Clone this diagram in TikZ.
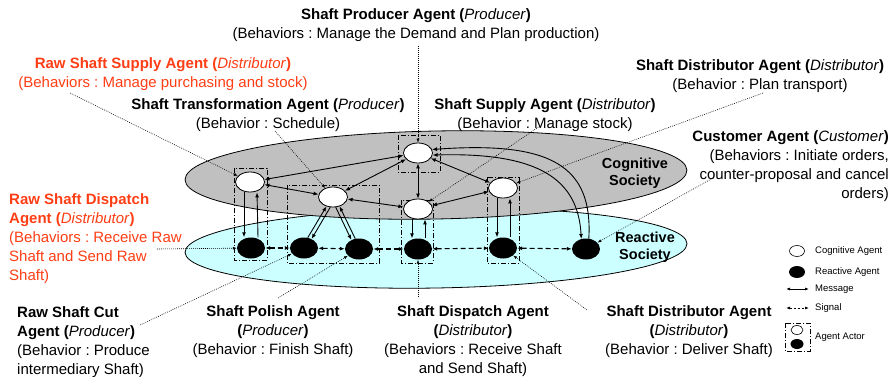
\documentclass[tikz,border=0pt]{standalone}
\usepackage{fontspec}
\setmainfont{Liberation Sans}
\usetikzlibrary{arrows.meta,shapes.geometric}
\definecolor{cogfill}{RGB}{192,192,192}
\definecolor{reafill}{RGB}{204,255,255}
\definecolor{rawred}{RGB}{255,61,20}
\newcommand\aglabel[2]{\textbf{#1 (}\textit{#2}\textbf{)}}
\frenchspacing
\begin{document}
\begin{tikzpicture}[x=1pt,y=-1pt,
  cog/.style={ellipse, draw, fill=white, line width=0.8pt, minimum width=29pt, minimum height=20pt, inner sep=0pt},
  rea/.style={ellipse, fill=black, minimum width=28pt, minimum height=21pt, inner sep=0pt},
  msg/.style={line width=0.9pt, -{Latex[length=5pt,width=4pt]}},
  msgb/.style={line width=0.9pt, {Latex[length=5pt,width=4pt]}-{Latex[length=5pt,width=4pt]}},
  sig/.style={line width=1.1pt, dash pattern=on 5pt off 3pt, {Latex[length=5pt,width=4pt]}-{Latex[length=5pt,width=4pt]}},
  actor/.style={draw, line width=0.8pt, dash pattern=on 5pt off 2pt on 1pt off 2pt},
  lead/.style={line width=0.6pt, dash pattern=on 0.8pt off 1.2pt, -{Latex[length=4pt,width=3pt]}},
  lbl/.style={align=center, inner sep=0pt, font=\fontsize{15}{19}\selectfont\frenchspacing},
  soc/.style={align=center, inner sep=0pt, font=\fontsize{14.5}{17}\selectfont\bfseries},
  leg/.style={anchor=west, inner sep=0pt, font=\fontsize{9.5}{11}\selectfont}
]
\useasboundingbox (0,0) rectangle (894,377);

% the two societies
\filldraw[fill=reafill, line width=0.8pt, rotate around={1.0:(436,248)}] (436,248) ellipse [x radius=251, y radius=40];
\filldraw[fill=cogfill, line width=0.8pt, rotate around={1.1:(436,176)}] (436,175) ellipse [x radius=251, y radius=44];
\node[soc] (cogsoc) at (635,173) {Cognitive\\Society};
\node[soc] (reasoc) at (645,247) {Reactive\\Society};

% agent actors
\draw[actor] (234,168) rectangle (267,260);
\draw[actor] (287,185) rectangle (379,263);
\draw[actor] (398,135) rectangle (440,172);
\draw[actor] (401,200) rectangle (433,263);
\draw[actor] (487,177) rectangle (519,263);

% cognitive agents
\node[cog] (C1) at (250,182) {};
\node[cog] (C2) at (333,197) {};
\node[cog] (C3) at (418,153) {};
\node[cog] (C4) at (418,209) {};
\node[cog] (C5) at (503,188) {};
% reactive agents
\node[rea] (R1) at (251,248) {};
\node[rea] (R2) at (304,248) {};
\node[rea] (R3) at (359,249) {};
\node[rea] (R4) at (418,249) {};
\node[rea] (R5) at (503,248) {};
\node[rea] (R6) at (586,249) {};

% messages between cognitive agents
\draw[msgb] (C1) -- (C3);
\draw[msgb] (C1) -- (C2);
\draw[msgb] (C2) -- (C3);
\draw[msgb] (C3) -- (C4);
\draw[msgb] (C2) -- (C4);
\draw[msgb] (C3) -- (C5);
\draw[msgb] (C4) -- (C5);

% messages between the two levels
\draw[msg] ([xshift=-6pt]C1.south) -- ([xshift=-7pt]R1.north);
\draw[msg] ([xshift=7pt]R1.north) -- ([xshift=7pt]C1.south);
\draw[msg] (R2.70) -- (C2.-125);
\draw[msg] (C2.-105) -- (R2.50);
\draw[msg] (C2.-75) -- (R3.130);
\draw[msg] (R3.110) -- (C2.-55);
\draw[msg] ([xshift=-6pt]C4.south) -- ([xshift=-6pt]R4.north);
\draw[msg] ([xshift=7pt]R4.north) -- ([xshift=7pt]C4.south);
\draw[msg] ([xshift=-6pt]C5.south) -- ([xshift=-6pt]R5.north);
\draw[msg] ([xshift=7pt]R5.north) -- ([xshift=7pt]C5.south);
\draw[msg] (R6.75) .. controls (593,165) and (550,141) .. (C3.14);
\draw[msgb] (C3.-8) .. controls (540,152) and (578,180) .. (R6.115);

% signals between reactive agents
\draw[sig] (R1) -- (R2);
\draw[sig] (R2) -- (R3);
\draw[sig] (R3) -- (R4);
\draw[sig] (R4) -- (R5);
\draw[sig] (R5) -- (R6);

% labels
\node[lbl] (tProd) at (416,25.5) {\aglabel{Shaft Producer Agent}{Producer}\\(Behaviors : Manage the Demand and Plan production)};
\node[lbl, text=rawred] (tRawSup) at (163,74) {\aglabel{Raw Shaft Supply Agent}{Distributor}\\(Behaviors : Manage purchasing and stock)};
\node[lbl] (tTrans) at (268,115.5) {\aglabel{Shaft Transformation Agent}{Producer}\\(Behavior : Schedule)};
\node[lbl] (tSup) at (545,115.5) {\aglabel{Shaft Supply Agent}{Distributor}\\(Behavior : Manage stock)};
\node[lbl] (tDistT) at (760,76) {\aglabel{Shaft Distributor Agent}{Distributor}\\(Behavior : Plan transport)};
\node[lbl, align=right, anchor=east] (tCust) at (889,166) {\aglabel{Customer Agent}{Customer}\\(Behaviors : Initiate orders,\\counter-proposal and cancel\\orders)};
\node[lbl, align=left, anchor=west, text=rawred] (tRawDis) at (9,238.5) {\textbf{Raw Shaft Dispatch}\\\aglabel{Agent}{Distributor}\\(Behaviors : Receive Raw\\Shaft and Send Raw\\Shaft)};
\node[lbl, align=left, anchor=west] (tCut) at (17,342) {\textbf{Raw Shaft Cut}\\\aglabel{Agent}{Producer}\\(Behavior : Produce\\intermediary Shaft)};
\node[lbl] (tPol) at (273,332) {\textbf{Shaft Polish Agent}\\\textbf{(}\textit{Producer}\textbf{)}\\(Behavior : Finish Shaft)};
\node[lbl] (tDisp) at (473,341) {\textbf{Shaft Dispatch Agent}\\\textbf{(}\textit{Distributor}\textbf{)}\\(Behaviors : Receive Shaft\\and Send Shaft)};
\node[lbl] (tDistB) at (689,332) {\textbf{Shaft Distributor Agent}\\\textbf{(}\textit{Distributor}\textbf{)}\\(Behavior : Deliver Shaft)};

% leader lines from labels to agents
\coordinate (pP) at (418,46);
\coordinate (pRS) at (70,93);
\coordinate (pT) at (275,131);
\coordinate (pS) at (540,126);
\coordinate (pD) at (763,93);
\coordinate (pCu) at (713,178);
\coordinate (pRD) at (157,249);
\coordinate (pRC) at (140,325);
\coordinate (pPo) at (278,298);
\coordinate (pSD) at (418,297);
\coordinate (pDB) at (587,310);
\draw[lead] (pP) -- (C3);
\draw[lead] (pRS) -- (C1);
\draw[lead] (pT) -- (C2);
\draw[lead] (pS) -- (C4);
\draw[lead] (pD) -- (C5);
\draw[lead] (pCu) -- (R6);
\draw[lead] (pRD) -- (R1);
\draw[lead] (pRC) -- (R2);
\draw[lead] (pPo) -- (R3);
\draw[lead] (pSD) -- (R4);
\draw[lead] (pDB) -- (R5);

% legend
\node[ellipse, draw, fill=white, line width=0.6pt, minimum width=15pt, minimum height=11pt, inner sep=0pt] (lgC) at (797,251) {};
\node[leg] (lgCt) at (815,251) {Cognitive Agent};
\node[ellipse, fill=black, minimum width=16pt, minimum height=12pt, inner sep=0pt] (lgR) at (797,272) {};
\node[leg] (lgRt) at (815,272) {Reactive Agent};
\coordinate (lgM1) at (786,289);
\coordinate (lgM2) at (809,289);
\draw[line width=0.9pt, {Latex[length=4pt,width=3pt]}-{Latex[length=4pt,width=3pt]}] (lgM1) -- (lgM2);
\node[leg] (lgMt) at (815,289) {Message};
\coordinate (lgS1) at (786,308);
\coordinate (lgS2) at (809,308);
\draw[line width=0.9pt, dash pattern=on 2.5pt off 1.5pt, {Latex[length=4pt,width=3pt]}-{Latex[length=4pt,width=3pt]}] (lgS1) -- (lgS2);
\node[leg] (lgSt) at (815,308) {Signal};
\draw[actor] (785,323) rectangle (810,351);
\node[ellipse, draw, fill=white, line width=0.6pt, minimum width=12pt, minimum height=9pt, inner sep=0pt] (lgAc) at (797,330) {};
\node[ellipse, fill=black, minimum width=13pt, minimum height=10pt, inner sep=0pt] (lgAr) at (797,344) {};
\node[leg] (lgAt) at (815,337) {Agent Actor};
\end{tikzpicture}
\end{document}
